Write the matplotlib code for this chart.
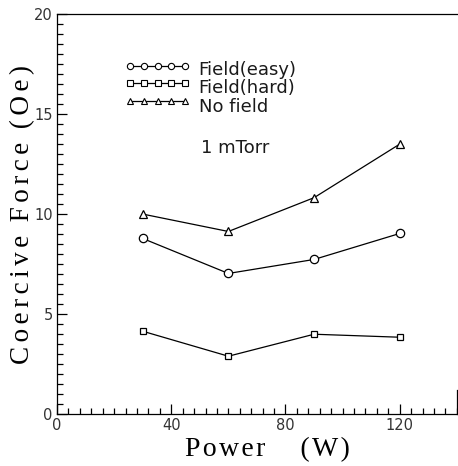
import matplotlib
matplotlib.use("Agg")
import matplotlib.pyplot as plt
from matplotlib.ticker import MultipleLocator

power = [30, 60, 90, 120]
field_easy = [8.78, 7.03, 7.73, 9.03]
field_hard = [4.14, 2.89, 3.99, 3.84]
no_field = [10.0, 9.13, 10.82, 13.5]

x_ticks = [0, 40, 80, 120]
y_ticks = [0, 5, 10, 15, 20]

fig = plt.figure(figsize=(4.58, 4.66), dpi=100)
ax = fig.add_axes([0.1245, 0.1116, 0.873, 0.858])

line_kw = dict(color="black", lw=0.9, mfc="white", mec="black", mew=0.9)
ax.plot(power, field_easy, marker="o", ms=6, **line_kw)
ax.plot(power, field_hard, marker="s", ms=5, **line_kw)
ax.plot(power, no_field, marker="^", ms=5.5, **line_kw)

ax.set_xlim(0, 140)
ax.set_ylim(0, 20)
ax.set_xticks(x_ticks)
ax.set_yticks(y_ticks)
ax.xaxis.set_minor_locator(MultipleLocator(4))
ax.yaxis.set_minor_locator(MultipleLocator(0.5))
ax.tick_params(which="both", direction="in", top=False, right=False,
               width=0.9, color="black", labelsize=10.5, labelcolor="#333333")
ax.tick_params(which="major", length=7, pad=3)
ax.tick_params(which="minor", length=4)
for lab in ax.get_xticklabels() + ax.get_yticklabels():
    lab.set_fontfamily("DejaVu Sans")

for s in ["left", "bottom", "top"]:
    ax.spines[s].set_linewidth(0.9)
ax.spines["right"].set_bounds(0, 1.2)
ax.spines["right"].set_linewidth(0.9)

# hand-drawn key: a short run of markers beside each series name
key_x = [25.6, 30.4, 35.2, 40.0, 44.8]
key_rows = [(17.41, 16.95, "o", 4.5, "Field(easy)"),
            (16.56, 16.07, "s", 4.0, "Field(hard)"),
            (15.66, 15.12, "^", 4.5, "No field")]
key_kw = dict(color="black", lw=0.9, mfc="white", mec="black", mew=0.8)
for y_mark, y_text, mk, ms, txt in key_rows:
    ax.plot(key_x, [y_mark] * len(key_x), marker=mk, ms=ms, **key_kw)
    ax.text(49.6, y_text, txt, fontsize=13, family="DejaVu Sans",
            va="baseline", ha="left", color="#1a1a1a")

ax.text(50.5, 13.07, "1 mTorr", fontsize=13, family="DejaVu Sans",
        va="baseline", ha="left", color="#1a1a1a")


def spaced(words, gap, word_gap):
    return word_gap.join(gap.join(w) for w in words)


hs = "\u200a"
serif = ["Liberation Serif", "DejaVu Serif"]
ax.set_xlabel(spaced(["Power", "(W)"], hs, "     "), fontsize=20,
              family=serif)
ax.xaxis.set_label_coords(0.527, -0.058)
ax.set_ylabel(spaced(["Coercive", "Force", "(Oe)"], hs * 2, "  "),
              fontsize=19.5, family=serif)
ax.yaxis.set_label_coords(-0.055, 0.5)

fig.savefig("out.png", dpi=100)
